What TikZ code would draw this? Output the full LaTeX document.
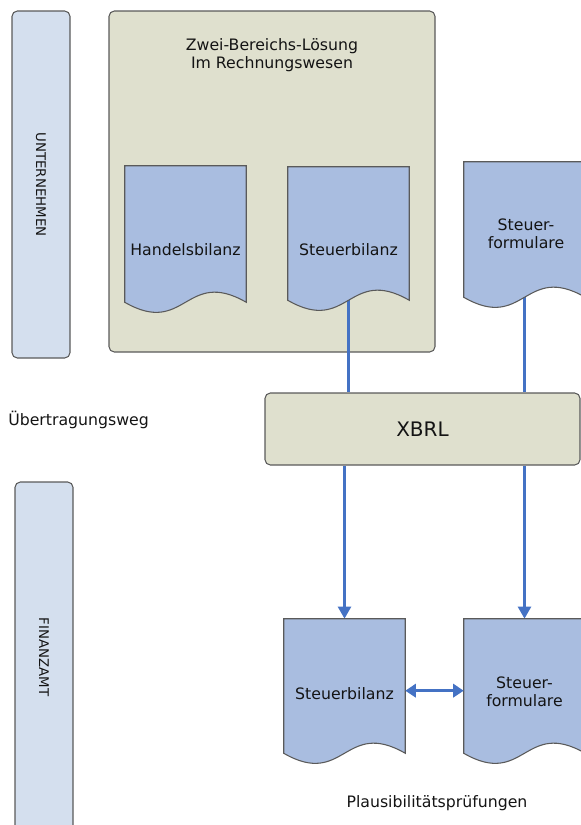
\documentclass[tikz,border=0pt]{standalone}
\usepackage{fontspec}
\setmainfont{DejaVu Sans}
\usetikzlibrary{arrows.meta,calc}
\definecolor{boxolive}{HTML}{DFE0CE}
\definecolor{docblue}{HTML}{A9BDE0}
\definecolor{barblue}{HTML}{D4DFEE}
\definecolor{edgegray}{HTML}{5A5A5A}
\definecolor{linkblue}{HTML}{4472C4}
\definecolor{txt}{HTML}{141414}
\newcommand\drawdoc[1]{%
  \draw[docshape] (#1.south west) -- (#1.north west) -- (#1.north east) -- (#1.south east)
    .. controls ($(#1.south)+(0,-35)$) and ($(#1.south)+(0,35)$) .. (#1.south west) -- cycle;}
\begin{document}
\begin{tikzpicture}[x=0.75pt,y=-0.75pt,
  every node/.style={text=txt, font=\fontsize{11.8pt}{13.5pt}\selectfont},
  lanebar/.style={draw=edgegray, fill=barblue, rounded corners=4pt, line width=0.8pt, inner sep=0pt},
  bigbox/.style={draw=edgegray, fill=boxolive, rounded corners=4pt, line width=0.8pt, inner sep=0pt},
  docbox/.style={inner sep=0pt},
  docshape/.style={draw=edgegray, fill=docblue, line width=0.8pt},
  link/.style={draw=linkblue, line width=2.4pt},
  arr/.style={link, -{Triangle[width=9.5pt,length=9pt]}},
  darr/.style={link, {Triangle[width=10pt,length=8pt]}-{Triangle[width=10pt,length=8pt]}},
  plain/.style={align=center, inner sep=0pt}]
\useasboundingbox (0,0) rectangle (581,825);
% lanes
\node[lanebar, minimum width=43.5pt, minimum height=260.25pt] (unt) at (41,184.5) {};
\node[rotate=-90, font=\fontsize{10pt}{12pt}\selectfont] (untt) at (41,184.5) {UNTERNEHMEN};
\node[lanebar, minimum width=43.5pt, minimum height=268.5pt] (fin) at (44,661) {};
\node[rotate=-90, font=\fontsize{10pt}{12pt}\selectfont] (fint) at (44,657) {FINANZAMT};
% big box
\node[bigbox, minimum width=244.5pt, minimum height=255.75pt] (zb) at (272,181.5) {};
\node[plain] (zbt) at (272,55) {Zwei-Bereichs-Lösung\\Im Rechnungswesen};
% documents (top)
\node[docbox, minimum width=90.75pt, minimum height=102pt] (hb) at (185.5,234) {};
\node[docbox, minimum width=90.75pt, minimum height=99.75pt] (sbT) at (348.5,233.5) {};
\node[docbox, minimum width=90.75pt, minimum height=101.25pt] (sfT) at (524.5,229.5) {};
% XBRL
\node[bigbox, minimum width=236.25pt, minimum height=54pt, font=\fontsize{15pt}{18pt}\selectfont] (xbrl) at (422.5,429) {XBRL};
% documents (bottom)
\node[docbox, minimum width=90.75pt, minimum height=100.5pt] (sbB) at (344.5,686) {};
\node[docbox, minimum width=90.75pt, minimum height=100.5pt] (sfB) at (524.5,686) {};
% connectors
\draw[link] (sbT.south) -- (sbT.south |- xbrl.north);
\draw[link] (sfT.south) -- (sfT.south |- xbrl.north);
\draw[arr] (xbrl.south -| sbB.north) -- (sbB.north);
\draw[arr] (xbrl.south -| sfB.north) -- (sfB.north);
% document shapes
\drawdoc{hb}
\drawdoc{sbT}
\drawdoc{sfT}
\drawdoc{sbB}
\drawdoc{sfB}
\draw[darr] ([yshift=-3.5pt]sbB.east) -- ([yshift=-3.5pt]sfB.west);
% document texts
\node[plain] (hbt) at (185.5,250) {Handelsbilanz};
\node[plain] (sbTt) at (348.5,250) {Steuerbilanz};
\node[plain] (sfTt) at (526,234) {Steuer-\\formulare};
\node[plain] (sbBt) at (344.5,694) {Steuerbilanz};
\node[plain] (sfBt) at (524.5,692) {Steuer-\\formulare};
% free labels
\node[plain, anchor=west] (uew) at (8,420) {Übertragungsweg};
\node[plain] (plp) at (437,803) {Plausibilitätsprüfungen};
\end{tikzpicture}
\end{document}
